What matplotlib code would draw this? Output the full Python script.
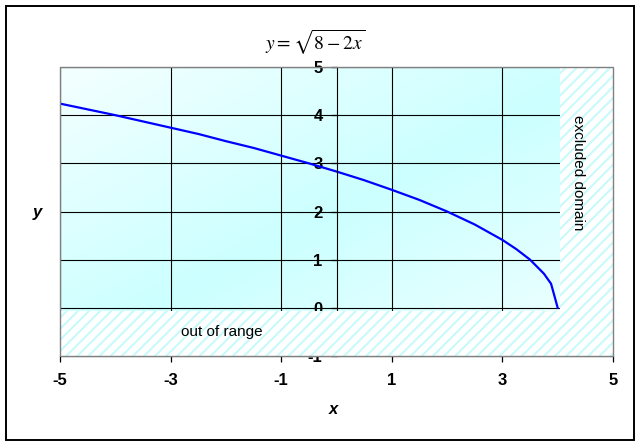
import numpy as np
import matplotlib
matplotlib.use('Agg')
import matplotlib.pyplot as plt
from matplotlib.patches import Rectangle
from matplotlib.colors import LinearSegmentedColormap

plt.rcParams['font.family'] = ['Liberation Sans', 'DejaVu Sans']
plt.rcParams['mathtext.fontset'] = 'stix'
plt.rcParams['hatch.linewidth'] = 1.5
plt.rcParams['axes.unicode_minus'] = False

# curve
x_vals = [-5, -4.5, -4, -3.5, -3, -2.5, -2, -1.5, -1, -0.5, 0, 0.5, 1, 1.5,
          2, 2.5, 3, 3.25, 3.5, 3.75, 3.88, 4]
y_vals = [4.24, 4.12, 4.00, 3.87, 3.74, 3.61, 3.46, 3.32, 3.16, 3.00, 2.83,
          2.65, 2.45, 2.24, 2.00, 1.73, 1.41, 1.22, 1.00, 0.71, 0.50, 0.00]
x_ticks = [-5, -3, -1, 1, 3, 5]
y_ticks = [-1, 0, 1, 2, 3, 4, 5]

W, H = 641, 446
fig = plt.figure(figsize=(W / 100, H / 100), dpi=100)
fig.patches.append(Rectangle((6 / W, 6 / H), 628 / W, 434 / H, transform=fig.transFigure,
                             fill=False, edgecolor='black', lw=1.4))

ax = fig.add_axes([60 / W, (H - 356) / H, 553 / W, 289 / H])
ax.set_xlim(-5, 5)
ax.set_ylim(-1, 5)
ax.patch.set_alpha(0)

# diagonal gradient background
gx, gy = np.meshgrid(np.linspace(0, 1, 200), np.linspace(0, 1, 200))
t = np.abs(gx + (1 - gy) - 1)
cmap = LinearSegmentedColormap.from_list('bg', ['#ccffff', '#f4ffff'])
ax.imshow(t, extent=(0, 1, 0, 1), transform=ax.transAxes, cmap=cmap, aspect='auto',
          origin='lower', zorder=0, vmin=0, vmax=1)

ax.set_xticks(x_ticks)
ax.set_yticks(y_ticks)
ax.grid(True, color='black', lw=0.8, zorder=1)
ax.set_axisbelow(True)

ax.plot(x_vals, y_vals, color='#0000ff', lw=1.6, zorder=2)

# hatched regions
ax.add_patch(Rectangle((-5, -1), 10, 0.93, facecolor='white', edgecolor='#c8fafa',
                       hatch='///', lw=0, zorder=3))
ax.add_patch(Rectangle((4.05, -0.07), 0.95, 5.07, facecolor='white', edgecolor='#c8fafa',
                       hatch='///', lw=0, zorder=3))
ax.text(-2.07, -0.5, 'out of range', fontsize=11, ha='center', va='center', zorder=4)
ax.text(4.37, 2.8, 'excluded domain', fontsize=11, rotation=270, ha='center',
        va='center', zorder=4)

for s in ['top', 'right']:
    ax.spines[s].set_visible(False)
ax.spines['left'].set_position(('data', 0))
ax.spines['left'].set_color('black')
ax.spines['left'].set_zorder(2.5)
ax.spines['bottom'].set_color('black')
ax.add_patch(Rectangle((0, 0), 1, 1, transform=ax.transAxes, fill=False,
                       edgecolor='#808080', lw=1.0, zorder=5, clip_on=False))
ax.tick_params(axis='both', direction='out', length=4, width=0.9, labelsize=12)
ax.tick_params(axis='y', pad=6)
ax.tick_params(axis='x', pad=8)
for lab in ax.get_xticklabels() + ax.get_yticklabels():
    lab.set_fontweight('bold')

fig.text(315 / W, 1 - 42 / H, r'$y=\sqrt{8-2x}$', fontsize=14, ha='center', va='center')
fig.text(37 / W, 1 - 213 / H, 'y', fontsize=12, fontweight='bold', style='italic',
         ha='center', va='center')
fig.text(333 / W, 1 - 410 / H, 'x', fontsize=12, fontweight='bold', style='italic',
         ha='center', va='center')

fig.savefig('out.png', dpi=100)
